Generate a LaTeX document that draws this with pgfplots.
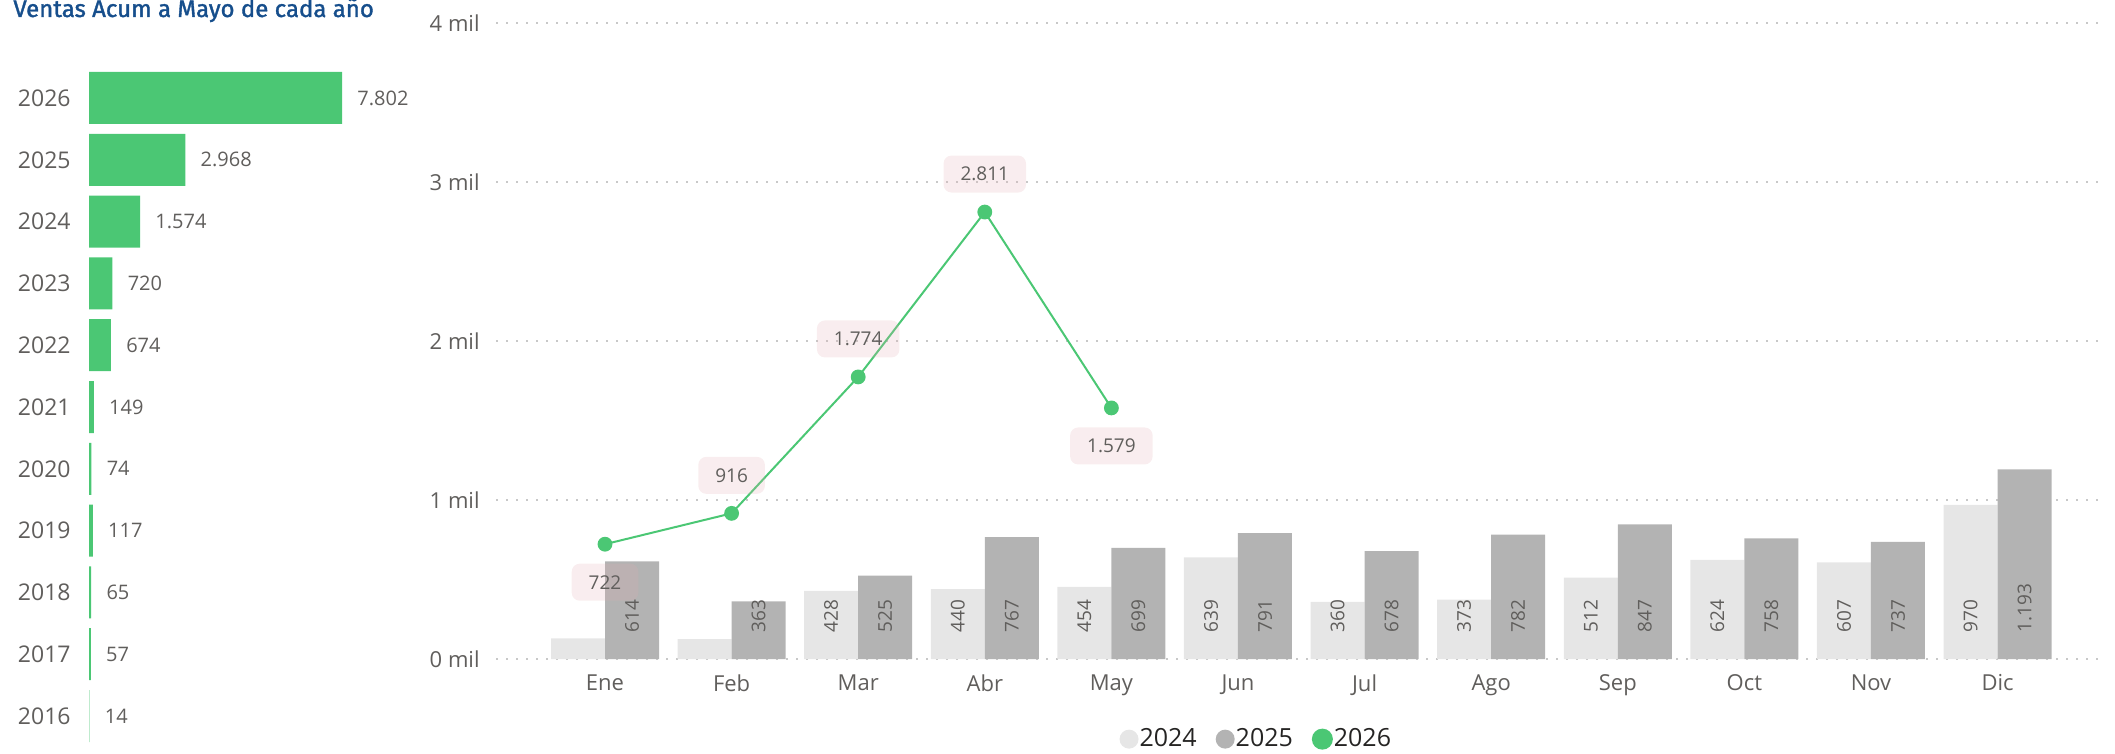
\documentclass[border=0pt]{standalone}
\usepackage{fontspec}
\setmainfont{Open Sans}
\newfontfamily\titlefont[FakeBold=1.5]{Fira Sans}
\usepackage{pgfplots}
\pgfplotsset{compat=1.18}
\usepackage{pgfplotstable}

\definecolor{c24}{RGB}{230,230,230}
\definecolor{c25}{RGB}{179,179,179}
\definecolor{cgreen}{RGB}{75,199,116}
\definecolor{labelgray}{RGB}{96,94,92}
\definecolor{legendtext}{RGB}{37,36,35}
\definecolor{gridgray}{RGB}{200,200,200}
\definecolor{titleblue}{RGB}{22,78,140}
\definecolor{boxpink}{RGB}{226,172,178}

% ventas mensuales 2024
\pgfplotstableread{
x y lab
0 130 {}
1 125 {}
2 428 428
3 440 440
4 454 454
5 639 639
6 360 360
7 373 373
8 512 512
9 624 624
10 607 607
11 970 970
}\ventasA

% ventas mensuales 2025
\pgfplotstableread{
x y lab
0 614 614
1 363 363
2 525 525
3 767 767
4 699 699
5 791 791
6 678 678
7 782 782
8 847 847
9 758 758
10 737 737
11 1193 1.193
}\ventasB

% ventas mensuales 2026 (off = desplazamiento de la etiqueta, pt)
\pgfplotstableread{
x y lab off
0 722 722 -19
1 916 916 19
2 1774 1.774 19
3 2811 2.811 19
4 1579 1.579 -19
}\ventasC

% acumulado a mayo por año
\pgfplotstableread{
anio v lab
2016 14 14
2017 57 57
2018 65 65
2019 117 117
2020 74 74
2021 149 149
2022 674 674
2023 720 720
2024 1574 1.574
2025 2968 2.968
2026 7802 7.802
}\acum

\begin{document}
\begin{tikzpicture}
\path[use as bounding box] (0pt,0pt) rectangle (1057.5pt,-377pt);

\node[anchor=base west, inner sep=0pt, text=titleblue,
      font=\titlefont\fontsize{12}{14}\selectfont] at (6.5pt,-8.5pt)
      {Ventas Acum a Mayo de cada año};

% --- barras horizontales: acumulado por año
\begin{axis}[
    at={(44.5pt,-373.45pt)}, anchor=south west,
    scale only axis, width=162.15pt, height=339.9pt,
    xmin=0, xmax=10000, ymin=2015.5, ymax=2026.5,
    axis line style={draw=none}, tick style={draw=none},
    xtick=\empty,
    ytick={2016,2017,2018,2019,2020,2021,2022,2023,2024,2025,2026},
    yticklabels={2016,2017,2018,2019,2020,2021,2022,2023,2024,2025,2026},
    yticklabel style={anchor=east, inner sep=0pt, xshift=-9pt,
        text=labelgray, font=\fontsize{11.5}{13}\selectfont},
    clip=false,
]
\addplot[xbar, bar width=26pt, bar shift=0pt, fill=cgreen, draw=none,
    nodes near coords, point meta=explicit symbolic,
    nodes near coords style={anchor=west, inner sep=0pt, xshift=7.5pt,
        text=labelgray, font=\fontsize{10}{12}\selectfont}]
    table[x=v, y=anio, meta=lab] {\acum};
\end{axis}

% --- columnas mensuales + línea 2026
\begin{axis}[
    at={(248pt,-329.5pt)}, anchor=south west,
    scale only axis, width=803pt, height=318pt,
    xmin=-0.861, xmax=11.825, ymin=0, ymax=4000,
    axis line style={draw=none}, tick style={draw=none},
    ytick={0,1000,2000,3000,4000},
    yticklabels={0 mil,1 mil,2 mil,3 mil,4 mil},
    yticklabel style={anchor=east, inner sep=0pt, xshift=-8pt,
        text=labelgray, font=\fontsize{11}{13}\selectfont},
    xtick={0,1,2,3,4,5,6,7,8,9,10,11},
    xticklabels={Ene,Feb,Mar,Abr,May,Jun,Jul,Ago,Sep,Oct,Nov,Dic},
    xticklabel style={anchor=north, inner sep=0pt, yshift=-7.5pt,
        text=labelgray, font=\fontsize{11}{13}\selectfont},
    ymajorgrids,
    major grid style={draw=gridgray, line width=1pt, dash pattern=on 1pt off 4pt},
    clip=false,
    legend columns=3,
    legend style={at={(0.388,-0.126)}, anchor=west, draw=none, fill=none,
        inner sep=0pt, font=\fontsize{12.5}{14}\selectfont,
        nodes={inner sep=0.5pt, text=legendtext},
        /tikz/every even column/.append style={column sep=9pt}},
]
\addplot[ybar, bar width=27pt, bar shift=-13.5pt, fill=c24, draw=none,
    nodes near coords, point meta=explicit symbolic,
    visualization depends on={\thisrow{y} \as \rawy},
    nodes near coords style={xshift=-13.5pt, yshift={13pt-\rawy*0.0795pt},
        rotate=90, anchor=west, inner sep=0pt, text=labelgray,
        font=\fontsize{9.5}{11}\selectfont},
    legend image code/.code={\fill[c24] (4.75pt,0pt) circle (4.75pt);}]
    table[x=x, y=y, meta=lab] {\ventasA};
\addlegendentry{2024}

\addplot[ybar, bar width=27pt, bar shift=13.5pt, fill=c25, draw=none,
    nodes near coords, point meta=explicit symbolic,
    visualization depends on={\thisrow{y} \as \rawy},
    nodes near coords style={xshift=13.5pt, yshift={13pt-\rawy*0.0795pt},
        rotate=90, anchor=west, inner sep=0pt, text=labelgray,
        font=\fontsize{9.5}{11}\selectfont},
    legend image code/.code={\fill[c25] (4.75pt,0pt) circle (4.75pt);}]
    table[x=x, y=y, meta=lab] {\ventasB};
\addlegendentry{2025}

\addplot[color=cgreen, line width=1pt, mark=*, mark size=3.2pt,
    mark options={draw=none, fill=cgreen},
    nodes near coords, point meta=explicit symbolic,
    visualization depends on={\thisrow{off} \as \off},
    nodes near coords style={anchor=center, yshift=\off pt,
        fill=boxpink, fill opacity=0.21, text opacity=1,
        rounded corners=4pt, inner xsep=8.5pt, inner ysep=0pt,
        minimum height=18.5pt, text=labelgray,
        font=\fontsize{9.5}{11}\selectfont},
    legend image code/.code={\fill[cgreen] (4.75pt,0pt) circle (4.75pt);}]
    table[x=x, y=y, meta=lab] {\ventasC};
\addlegendentry{2026}
\end{axis}
\end{tikzpicture}
\end{document}
